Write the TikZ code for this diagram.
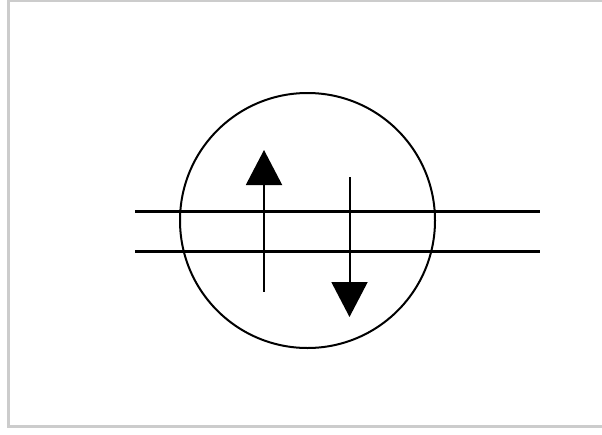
\documentclass[tikz,border=0pt]{standalone}
\usetikzlibrary{arrows.meta}
\begin{document}
\begin{tikzpicture}[x=1pt,y=-1pt,
  frame/.style={draw=black!20,line width=3pt},
  rail/.style={line width=3.2pt},
  spinarrow/.style={line width=2pt,-{Triangle[length=35pt,width=36pt]}}]
\useasboundingbox (0,0) rectangle (602,434);
\draw[frame] (610,0.5) -- (8.5,0.5) -- (8.5,426.5) -- (610,426.5);
\node[draw,circle,line width=2pt,minimum size=255pt,inner sep=0pt] (c) at (307.5,220.5) {};
\coordinate (l1a) at (135,211.5);
\coordinate (l1b) at (540,211.5);
\coordinate (l2a) at (135,251.5);
\coordinate (l2b) at (540,251.5);
\draw[rail] (l1a) -- (l1b);
\draw[rail] (l2a) -- (l2b);
\coordinate (ua) at (264,291.5);
\coordinate (ub) at (264,150);
\coordinate (da) at (349.5,177);
\coordinate (db) at (349.5,317);
\draw[spinarrow] (ua) -- (ub);
\draw[spinarrow] (da) -- (db);
\end{tikzpicture}
\end{document}
